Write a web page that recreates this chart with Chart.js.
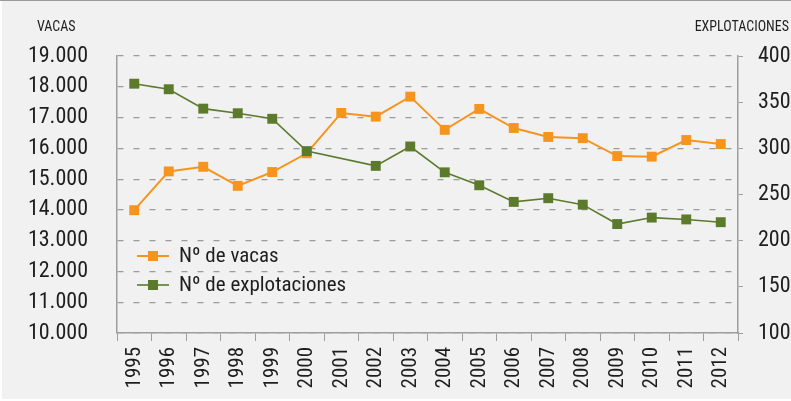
<!DOCTYPE html>
<html>
<head>
<meta charset="utf-8">
<script src="https://cdn.jsdelivr.net/npm/chart.js@4/dist/chart.umd.min.js"></script>
<style>
  html, body { margin: 0; padding: 0; background: #ffffff; }
  #wrap { width: 791px; height: 401px; }
</style>
</head>
<body>
<div id="wrap"><canvas id="c" width="791" height="401"></canvas></div>
<script>
// ---- data ----
const years = ["1995","1996","1997","1998","1999","2000","2001","2002","2003","2004","2005","2006","2007","2008","2009","2010","2011","2012"];
const vacas = [13990, 15250, 15400, 14780, 15230, 15840, 17150, 17030, 17680, 16600, 17280, 16660, 16370, 16330, 15750, 15730, 16270, 16140];
const explotaciones = [370, 364, 343, 338, 332, 297, null, 281, 302, 274, 260, 242, 246, 239, 218, 225, 223, 220];
const leftTitle = "VACAS";
const rightTitle = "EXPLOTACIONES";
const seriesNames = ["Nº de vacas", "Nº de explotaciones"];

const FONT = "'Roboto Condensed', 'Liberation Sans Narrow', sans-serif";
const ORANGE = "#F7941D";
const GREEN = "#5B7A2B";
const GRID = "#9c9c9c";
const AXIS = "#9e9e9e";
const TEXT = "#1e1e1e";

function fmtThousands(v) {
  return String(v).replace(/\B(?=(\d{3})+(?!\d))/g, ".");
}

const bgPlugin = {
  id: "bg",
  beforeDraw(chart) {
    const ctx = chart.ctx;
    ctx.save();
    ctx.fillStyle = "#f1f1f1";
    ctx.fillRect(0, 0, chart.width, chart.height);
    ctx.fillStyle = "#ffffff";
    ctx.fillRect(0, 0, 2, chart.height);
    ctx.fillRect(0, chart.height - 2, chart.width, 2);
    ctx.fillStyle = "#9a9a9a";
    ctx.fillRect(0, 0, chart.width, 1);
    ctx.restore();
  }
};

const decoPlugin = {
  id: "deco",
  afterDraw(chart) {
    const ctx = chart.ctx;
    const area = chart.chartArea;
    ctx.save();
    // axis titles
    ctx.fillStyle = TEXT;
    ctx.font = "14px " + FONT;
    ctx.textBaseline = "middle";
    ctx.textAlign = "left";
    ctx.fillText(leftTitle, 37, 27);
    ctx.textAlign = "right";
    ctx.fillText(rightTitle, 789, 27);
    // legend
    const items = chart.data.datasets;
    const lx1 = area.left + 20, lx2 = area.left + 52;
    const rowsY = [256, 285];
    items.forEach((ds, i) => {
      const y = rowsY[i];
      ctx.strokeStyle = ds.borderColor;
      ctx.lineWidth = ds.borderWidth;
      ctx.beginPath();
      ctx.moveTo(lx1, y);
      ctx.lineTo(lx2, y);
      ctx.stroke();
      ctx.fillStyle = ds.pointBackgroundColor;
      ctx.fillRect((lx1 + lx2) / 2 - 5, y - 5, 10, 10);
      ctx.fillStyle = TEXT;
      ctx.font = "21px " + FONT;
      ctx.textAlign = "left";
      ctx.textBaseline = "middle";
      ctx.fillText(ds.label, lx2 + 10, y + 1);
    });
    ctx.restore();
  }
};

new Chart(document.getElementById("c"), {
  type: "line",
  data: {
    labels: years,
    datasets: [
      {
        label: seriesNames[0],
        data: vacas,
        yAxisID: "yL",
        borderColor: ORANGE,
        backgroundColor: ORANGE,
        pointBackgroundColor: ORANGE,
        pointBorderColor: ORANGE,
        borderWidth: 2,
        pointStyle: "rect",
        pointRadius: 7,
        pointBorderWidth: 0,
        tension: 0,
        order: 2
      },
      {
        label: seriesNames[1],
        data: explotaciones,
        yAxisID: "yR",
        borderColor: GREEN,
        backgroundColor: GREEN,
        pointBackgroundColor: GREEN,
        pointBorderColor: GREEN,
        borderWidth: 1.6,
        pointStyle: "rect",
        pointRadius: 7,
        pointBorderWidth: 0,
        tension: 0,
        spanGaps: true,
        order: 1
      }
    ]
  },
  options: {
    responsive: false,
    animation: false,
    devicePixelRatio: 1,
    layout: { padding: { top: 56, left: 0, right: 0, bottom: 0 } },
    plugins: {
      legend: { display: false },
      tooltip: { enabled: false },
      title: { display: false }
    },
    scales: {
      x: {
        type: "category",
        offset: true,
        grid: {
          offset: true,
          drawOnChartArea: false,
          drawTicks: true,
          tickLength: 8,
          color: AXIS,
          lineWidth: 1
        },
        border: { display: true, color: AXIS, width: 1.5 },
        ticks: {
          maxRotation: 90,
          minRotation: 90,
          autoSkip: false,
          padding: 6,
          color: TEXT,
          font: { family: FONT, size: 21 }
        },
        afterFit(scale) { scale.height = 68; }
      },
      yL: {
        type: "linear",
        position: "left",
        min: 10000,
        max: 19000,
        ticks: {
          stepSize: 1000,
          padding: 29,
          color: TEXT,
          font: { family: FONT, size: 22 },
          callback: (v) => fmtThousands(v)
        },
        grid: {
          drawOnChartArea: true,
          drawTicks: false,
          color: GRID,
          lineWidth: 1.2
        },
        border: { display: true, color: AXIS, width: 1.5, dash: [6, 10] },
        afterFit(scale) { scale.width = 117; }
      },
      yR: {
        type: "linear",
        position: "right",
        min: 100,
        max: 400,
        ticks: {
          stepSize: 50,
          padding: 15,
          color: TEXT,
          font: { family: FONT, size: 22 }
        },
        grid: {
          drawOnChartArea: false,
          drawTicks: true,
          tickLength: 5,
          color: AXIS,
          lineWidth: 1
        },
        border: { display: true, color: AXIS, width: 1.5 },
        afterFit(scale) { scale.width = 53; }
      }
    }
  },
  plugins: [bgPlugin, decoPlugin]
});
</script>
</body>
</html>
